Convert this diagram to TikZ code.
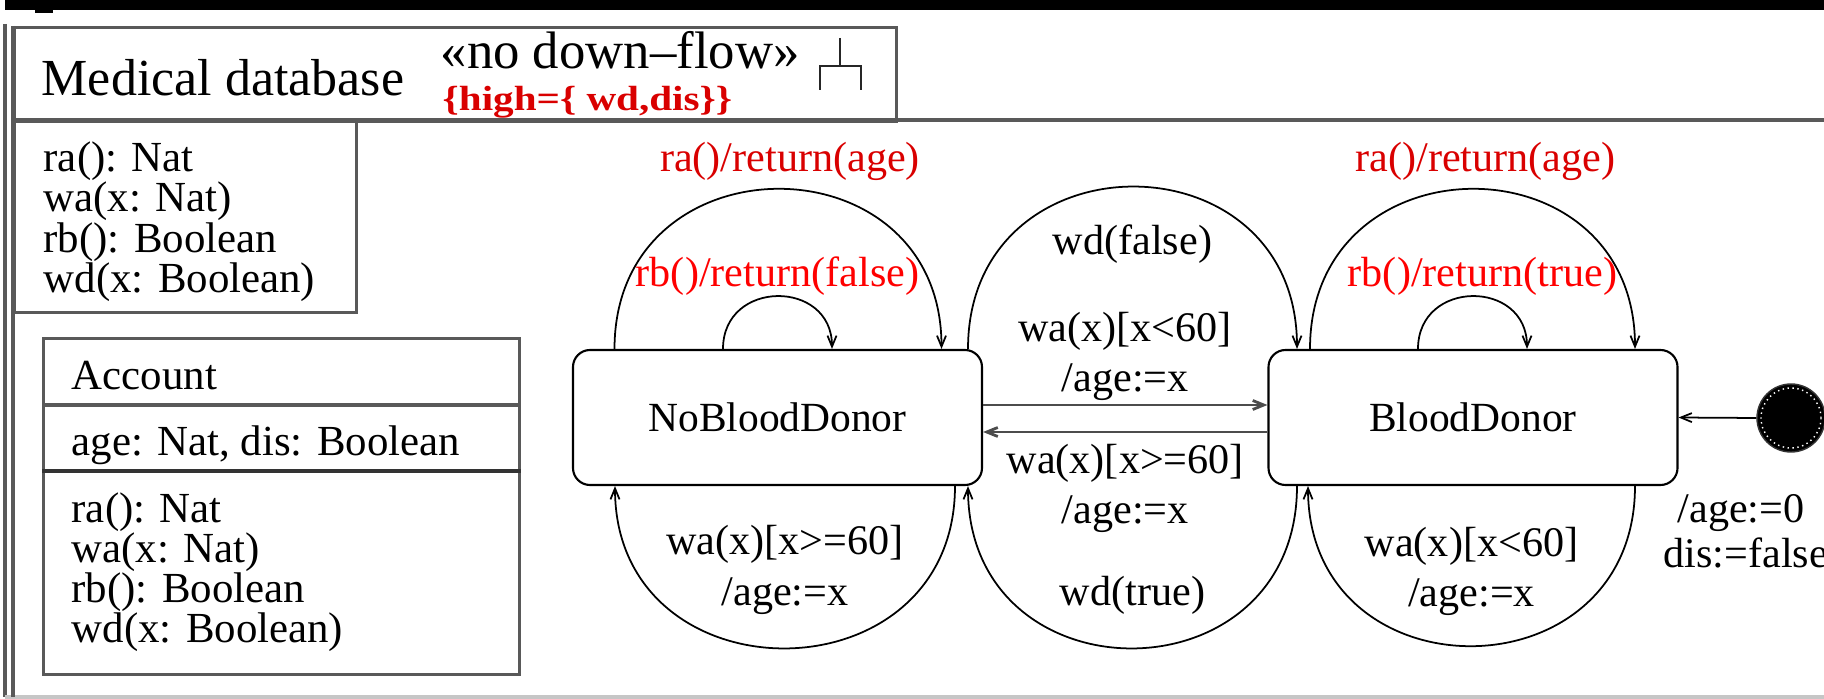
\documentclass[tikz,border=0pt]{standalone}
\usepackage{fontspec}
\setmainfont{Liberation Serif}
\usetikzlibrary{arrows.meta, positioning, calc}

\begin{document}
\begin{tikzpicture}[
    every node/.style={font=\fontsize{12}{14}\selectfont},
    frm/.style={draw=gray!70!black, line width=0.9pt},
    cls/.style={rectangle, draw=gray!70!black, line width=0.9pt, inner sep=0pt},
    stbox/.style={rectangle, draw, rounded corners=0.17cm, line width=0.6pt, minimum width=4.09cm, minimum height=1.35cm, font=\fontsize{11.8}{14}\selectfont},
    op/.style={anchor=base west, inner sep=0pt, font=\fontsize{12.2}{14}\selectfont},
    lbl/.style={align=center, inner sep=0pt, font=\fontsize{12}{14.3}\selectfont},
    redlbl/.style={inner sep=0pt, text=red},
    tr/.style={-{Straight Barb[length=0.11cm,width=0.09cm]}, line width=0.5pt},
    trg/.style={tr, draw=gray!60!black, line width=0.8pt}
]
\useasboundingbox (0,0) rectangle (18.24,-6.99);

% top rule of the page
\fill (0.05,0) rectangle (18.24,-0.10);
\fill (0.35,0) rectangle (0.53,-0.13);

% package frame with its tab
\draw[frm] (0.05,-0.24) -- (0.05,-6.97);
\draw[frm, draw=gray!45] (0.05,-6.97) -- (18.30,-6.97);
\draw[frm] (0.13,-0.26) -- (0.13,-6.97);
\draw[frm] (0.13,-1.20) -- (18.30,-1.20);
\node[cls, anchor=north west, minimum width=8.82cm, minimum height=0.94cm] (tab) at (0.13,-0.26) {};

\node[anchor=base west, inner sep=0pt, font=\fontsize{14.8}{17}\selectfont] (pkgname) at (0.41,-0.96) {Medical database};
\node[anchor=base west, inner sep=0pt, font=\fontsize{15}{17}\selectfont] (stereo) at (4.40,-0.69) {«no down–flow»};
\node[anchor=base west, inner sep=0pt, yscale=0.85, text=red!85!black, font=\fontsize{11.7}{14}\selectfont\bfseries] (tagval) at (4.42,-1.11) {\{high=\{ wd,dis\}\}};

% subsystem fork
\draw[line width=0.6pt, gray!30!black] (8.40,-0.38) -- (8.40,-0.66)
    (8.20,-0.90) -- (8.20,-0.66) -- (8.61,-0.66) -- (8.61,-0.90);

% interface
\node[cls, anchor=north west, minimum width=3.42cm, minimum height=1.91cm] (iface) at (0.13,-1.20) {};
\foreach \opname [count=\i from 0] in {ra(): Nat, wa(x: Nat), rb(): Boolean, wd(x: Boolean)}
  \node[op] (ifop\i) at (0.43,-1.715-0.405*\i) {\opname};

% class Account
\node[cls, anchor=north west, minimum width=4.76cm, minimum height=3.36cm] (acc) at (0.42,-3.37) {};
\draw[frm] (acc.west |- 0,-4.05) -- (acc.east |- 0,-4.05);
\draw[frm, draw=black!80] (acc.west |- 0,-4.71) -- (acc.east |- 0,-4.71);
\node[op] (accname) at (0.71,-3.90) {Account};
\node[op] (accattr) at (0.71,-4.56) {age: Nat, dis: Boolean};
\foreach \opname [count=\i from 0] in {ra(): Nat, wa(x: Nat), rb(): Boolean, wd(x: Boolean)}
  \node[op] (accop\i) at (0.71,-5.23-0.40*\i) {\opname};

% states
\node[stbox] (nbd) at (7.775,-4.175) {NoBloodDonor};
\node[stbox] (bd) at (14.73,-4.175) {BloodDonor};

% initial state
\node[circle, fill=black, draw=gray!40!black, minimum size=0.68cm, inner sep=0pt] (init) at (17.91,-4.18) {};
\draw[white, densely dotted, line width=0.4pt] (init.center) circle (0.30);
\draw[tr] (init.west) -- (bd.east);
\node[lbl, anchor=base west] (initage) at (16.77,-5.23) {/age:=0};
\node[lbl, anchor=base west] (initdis) at (16.63,-5.68) {dis:=false};

% NoBloodDonor loops
\draw[tr] ([xshift=-1.63cm]nbd.north) .. controls +(0,2.13) and +(0,2.13) .. ([xshift=1.64cm]nbd.north)
    node[midway, redlbl, above=0.08cm, xshift=0.12cm, text=red!85!black] (nbdra) {ra()/return(age)};
\draw[tr] ([xshift=-0.545cm]nbd.north) .. controls +(0,0.70) and +(0,0.70) .. ([xshift=0.545cm]nbd.north)
    node[midway, redlbl, above=0cm] (nbdrb) {rb()/return(false)};
\draw[tr] ([xshift=1.775cm]nbd.south) .. controls +(0,-2.16) and +(0,-2.16) .. ([xshift=-1.625cm]nbd.south)
    node[midway, lbl, above=0.33cm] (nbdwa) {wa(x)[x>=60]\\/age:=x};

% between the two states
\draw[tr] ([xshift=1.905cm]nbd.north) .. controls +(0,2.16) and +(0,2.16) .. ([xshift=-1.76cm]bd.north)
    node[midway, lbl, below=0.37cm] (wdfalse) {wd(false)};
\draw[tr] ([xshift=-1.76cm]bd.south) .. controls +(0,-2.16) and +(0,-2.16) .. ([xshift=1.905cm]nbd.south)
    node[midway, lbl, above=0.33cm] (wdtrue) {wd(true)};
\draw[trg] ([yshift=0.125cm]nbd.east) -- node[lbl, above=0.03cm] (young) {wa(x)[x<60]\\/age:=x} ([yshift=0.125cm]bd.west);
\draw[trg] ([yshift=-0.145cm]bd.west) -- node[lbl, below=0.11cm] (old) {wa(x)[x>=60]\\/age:=x} ([yshift=-0.145cm]nbd.east);

% BloodDonor loops
\draw[tr] ([xshift=-1.63cm]bd.north) .. controls +(0,2.13) and +(0,2.13) .. ([xshift=1.62cm]bd.north)
    node[midway, redlbl, above=0.08cm, xshift=0.13cm, text=red!85!black] (bdra) {ra()/return(age)};
\draw[tr] ([xshift=-0.55cm]bd.north) .. controls +(0,0.70) and +(0,0.70) .. ([xshift=0.54cm]bd.north)
    node[midway, redlbl, above=0cm, xshift=0.1cm] (bdrb) {rb()/return(true)};
\draw[tr] ([xshift=1.62cm]bd.south) .. controls +(0,-2.13) and +(0,-2.13) .. ([xshift=-1.65cm]bd.south)
    node[midway, lbl, above=0.29cm] (bdwa) {wa(x)[x<60]\\/age:=x};

\end{tikzpicture}
\end{document}
